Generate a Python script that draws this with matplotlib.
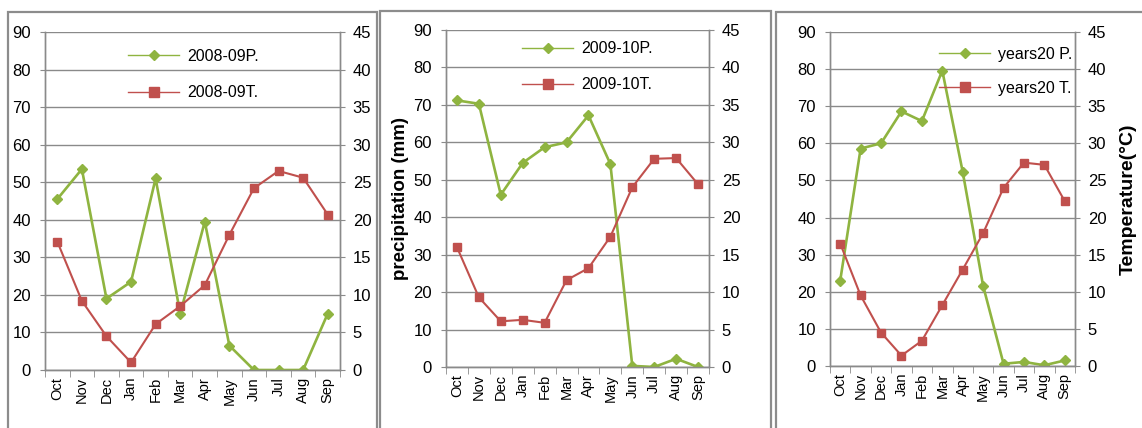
import matplotlib
matplotlib.use('Agg')
import matplotlib.pyplot as plt
from matplotlib.patches import Rectangle
from matplotlib.lines import Line2D
import numpy as np

plt.rcParams['font.family'] = ['Liberation Sans', 'DejaVu Sans']

months = ['Oct', 'Nov', 'Dec', 'Jan', 'Feb', 'Mar', 'Apr', 'May', 'Jun', 'Jul', 'Aug', 'Sep']

# precipitation (mm), left axis
p_0809 = [45.5, 53.5, 19, 23.5, 51, 15, 39.5, 6.5, 0, 0, 0, 15]
p_0910 = [71.2, 70.3, 46, 54.5, 58.7, 60, 67.2, 54.2, 0.3, 0, 2.2, 0]
p_20y = [23, 58.6, 60, 68.6, 66, 79.6, 52.3, 21.6, 0.6, 1.1, 0.2, 1.5]

# temperature (degC), right axis
t_0809 = [17.1, 9.2, 4.5, 1.0, 6.1, 8.5, 11.3, 18.0, 24.2, 26.5, 25.6, 20.7]
t_0910 = [16.0, 9.3, 6.1, 6.3, 5.9, 11.6, 13.2, 17.4, 24.0, 27.8, 27.9, 24.4]
t_20y = [16.5, 9.5, 4.5, 1.4, 3.4, 8.2, 13.0, 17.9, 24.0, 27.4, 27.1, 22.2]

labels_p = ['2008-09P.', '2009-10P.', 'years20 P.']
labels_t = ['2008-09T.', '2009-10T.', 'years20 T.']

GREEN = '#8fb440'
RED = '#c0504d'
GRID = '#8a8a8a'

W, H = 1142, 428
fig = plt.figure(figsize=(W / 100, H / 100), dpi=100)

# panel frames (pixels: x0, x1, top)
for x0, x1, top in [(8, 377, 12), (380, 771, 11), (776, 1160, 12)]:
    fig.add_artist(Rectangle((x0 / W, -0.1), (x1 - x0) / W, 1 - top / H + 0.1,
                             transform=fig.transFigure, fill=False,
                             edgecolor='#8c8c8c', lw=1.6))

# axes boxes (pixels: left, right, top, bottom)
boxes = [(45, 340, 32, 370), (446, 709, 30, 367), (830, 1075, 32, 366)]
legend_anchor = [(0.26, 0.97), (0.265, 0.985), (0.42, 0.975)]
legend_spacing = [1.35, 1.3, 1.2]

x = np.arange(len(months))
datasets = [(p_0809, t_0809), (p_0910, t_0910), (p_20y, t_20y)]

for i, ((l, r, t, b), (pv, tv)) in enumerate(zip(boxes, datasets)):
    ax = fig.add_axes([l / W, 1 - b / H, (r - l) / W, (b - t) / H])
    ax2 = ax.twinx()

    ax.plot(x, pv, color=GREEN, lw=1.9, marker='D', ms=5, mfc=GREEN, mec=GREEN, zorder=3)
    ax2.plot(x, tv, color=RED, lw=1.5, marker='s', ms=5.5, mfc=RED, mec=RED, zorder=3)

    ax.set_xlim(-0.5, 11.5)
    ax.set_ylim(0, 90)
    ax2.set_ylim(0, 45)
    ax.set_yticks(range(0, 91, 10))
    ax2.set_yticks(range(0, 46, 5))
    ax.set_xticks(x)
    ax.set_xticklabels(months, rotation=90, fontsize=10.5)
    ax.set_xticks(np.arange(-0.5, 12, 1), minor=True)
    ax.tick_params(axis='x', which='major', length=0, pad=5)
    ax.tick_params(axis='x', which='minor', length=5, color=GRID, direction='out')
    ax.tick_params(axis='y', length=3.6, color=GRID, labelsize=12, pad=6.5)
    ax2.tick_params(axis='y', length=3.6, color=GRID, labelsize=12, pad=5.5)

    ax.grid(axis='y', color=GRID, lw=1)
    ax.set_axisbelow(True)
    for a in (ax, ax2):
        a.spines['top'].set_visible(False)
        for s in ('left', 'right', 'bottom'):
            a.spines[s].set_color(GRID)
            a.spines[s].set_linewidth(1)

    handles = [Line2D([], [], color=GREEN, lw=1, marker='D', ms=5, mfc=GREEN, mec=GREEN),
               Line2D([], [], color=RED, lw=1, marker='s', ms=6.5, mfc=RED, mec=RED)]
    ax2.legend(handles, [labels_p[i], labels_t[i]], loc='upper left',
               bbox_to_anchor=legend_anchor[i], frameon=False, fontsize=11.5,
               handlelength=3.2, labelspacing=legend_spacing[i], handletextpad=0.5,
               borderaxespad=0)

    if i == 1:
        ax.set_ylabel('precipitation (mm)', fontsize=13.5, fontweight='bold', labelpad=3)
    if i == 2:
        ax2.set_ylabel('Temperature(\u00b0C)', fontsize=14, fontweight='bold', labelpad=10)

fig.savefig('out.png', dpi=100, facecolor='white')
